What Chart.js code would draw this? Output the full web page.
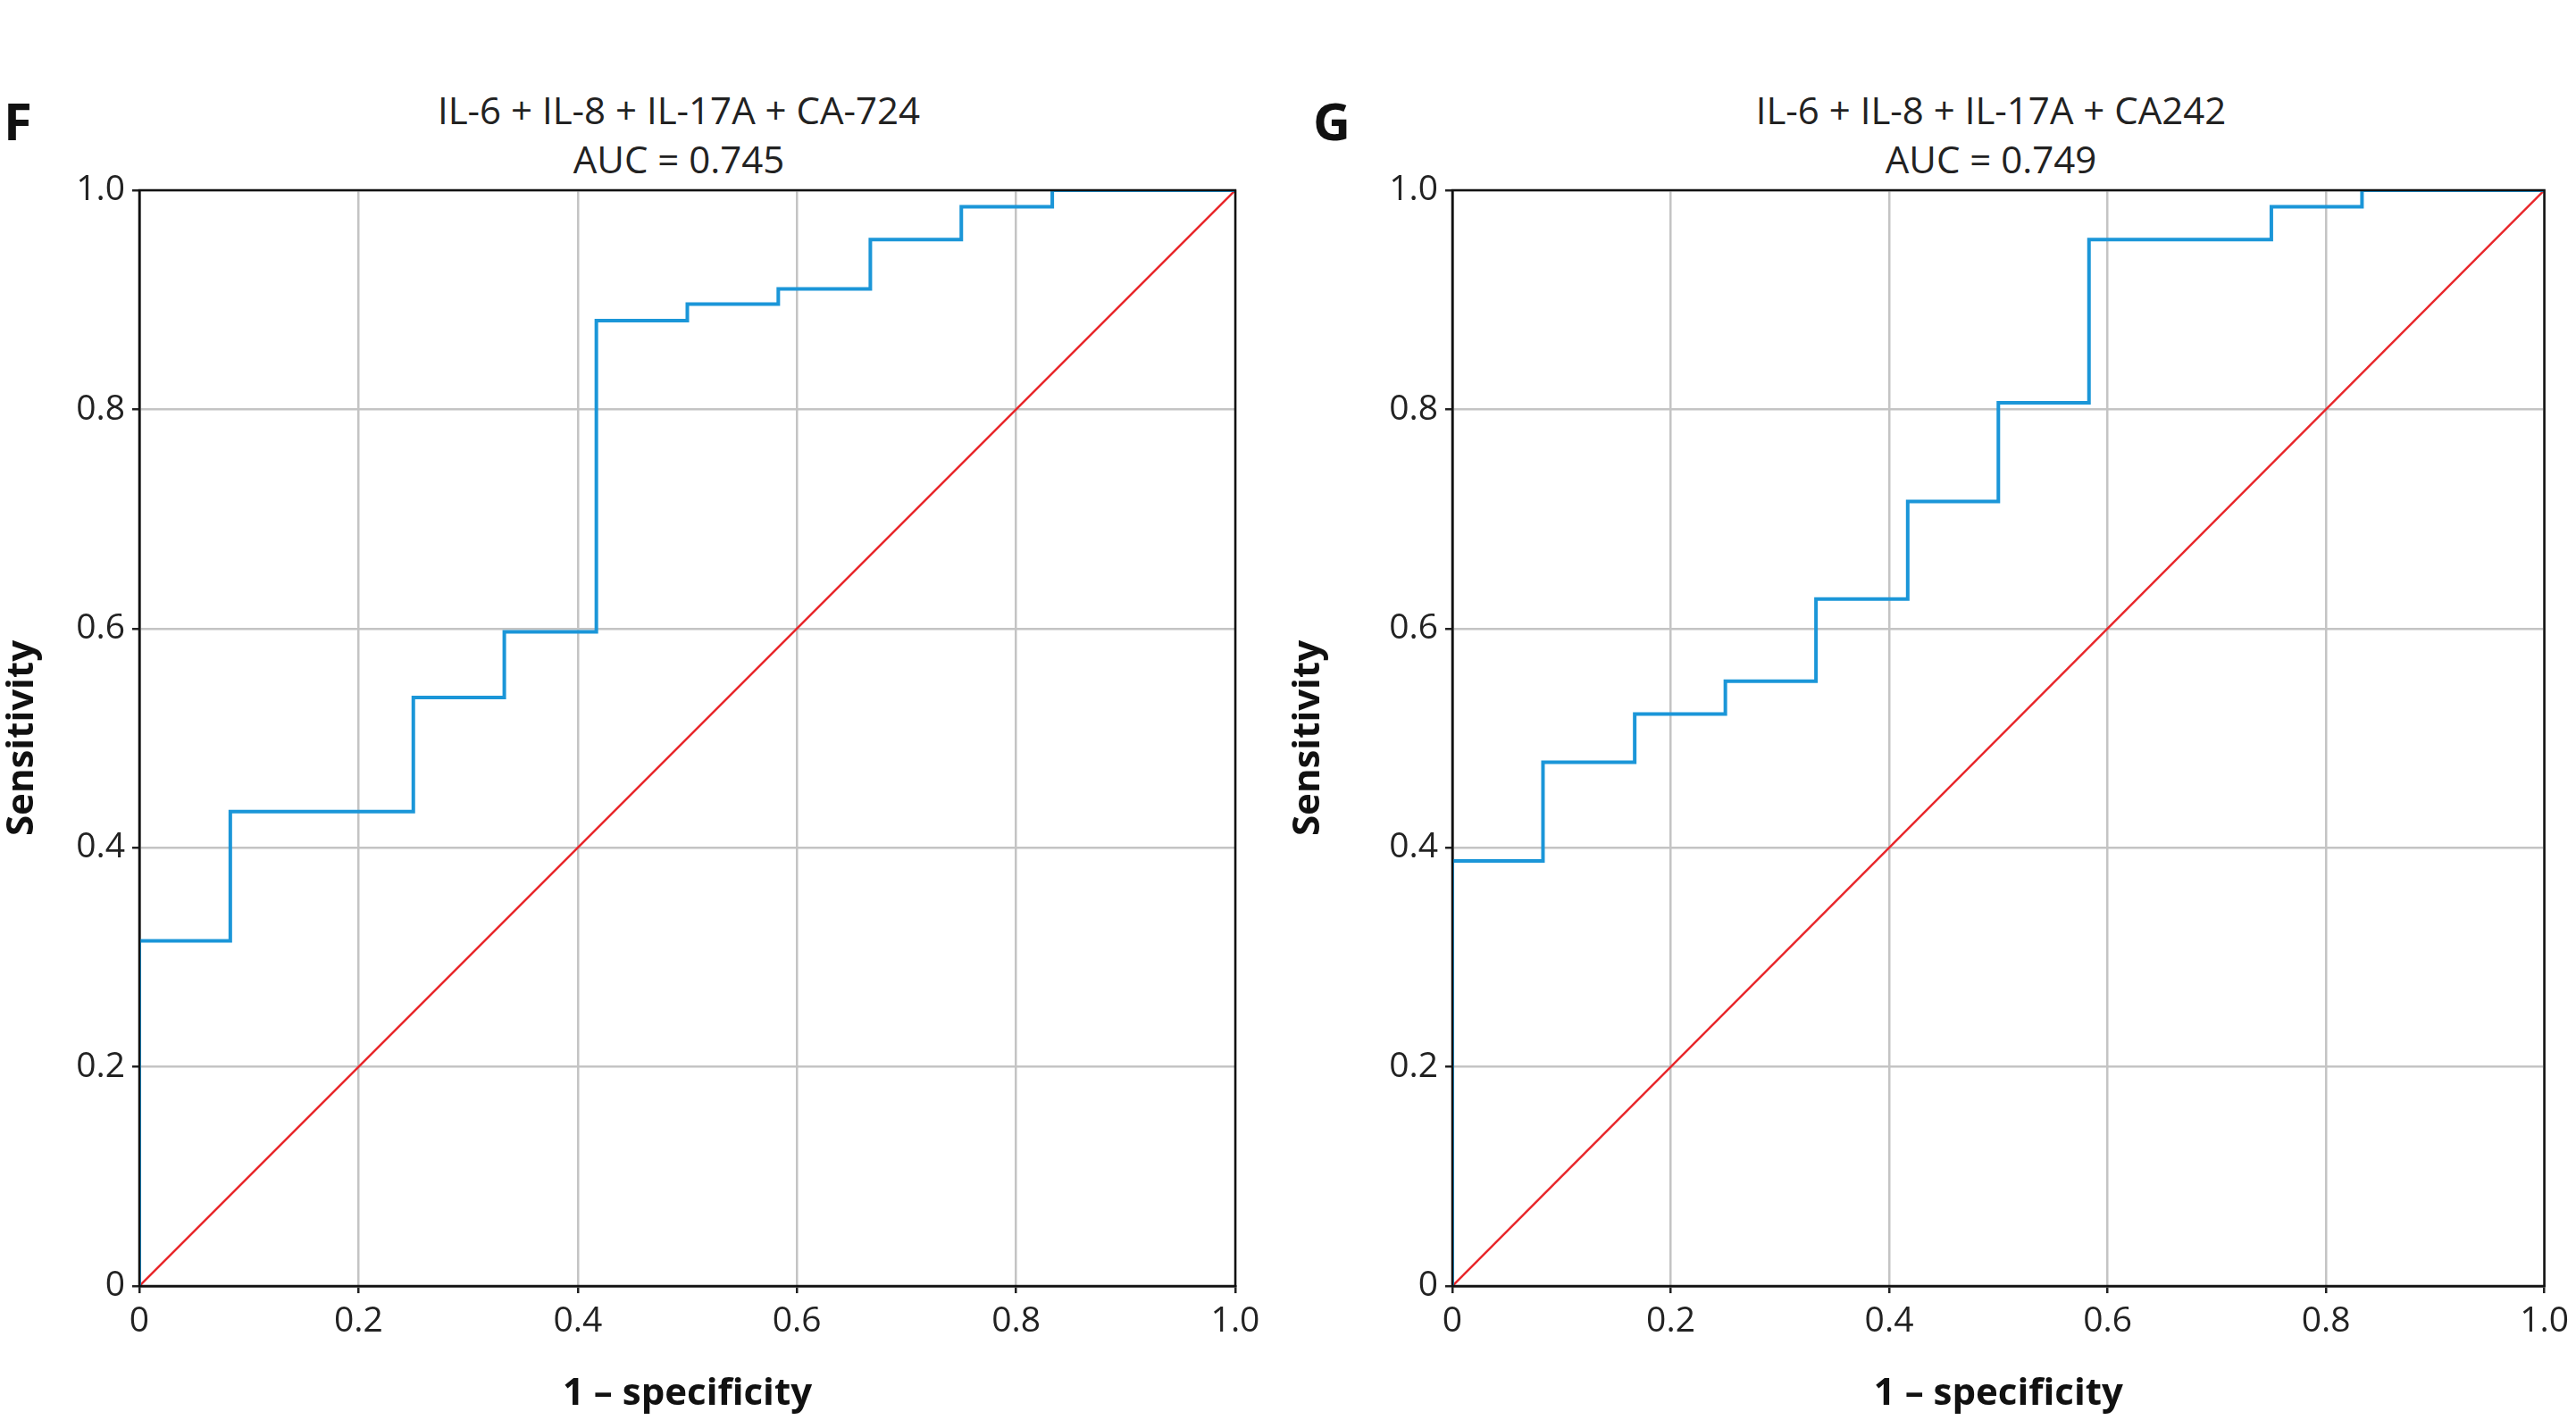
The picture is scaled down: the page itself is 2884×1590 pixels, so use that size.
<html><head>
<script src="https://cdn.jsdelivr.net/npm/chart.js@4"></script>
<style>
body{margin:0;width:2884px;height:1590px;background:#fff;font-family:"Open Sans",sans-serif;position:relative;overflow:hidden}
canvas{position:absolute;top:0}
.t{position:absolute;text-align:center;font-size:42px;line-height:55px;color:#222;transform:translateX(-50%)}
.l{position:absolute;font-size:58px;font-weight:bold;color:#111}
</style></head><body>
<div class="l" style="left:4px;top:95px">F</div>
<div class="t" style="left:760px;top:95px">IL-6 + IL-8 + IL-17A + CA-724<br>AUC = 0.745</div>
<div class="l" style="left:1470px;top:95px">G</div>
<div class="t" style="left:2229px;top:95px">IL-6 + IL-8 + IL-17A + CA242<br>AUC = 0.749</div>
<div style="position:absolute;left:0;top:0;width:1440px;height:1590px"><canvas id="cF"></canvas></div>
<div style="position:absolute;left:1440px;top:0;width:1444px;height:1590px"><canvas id="cG"></canvas></div>
<script>
// Puntos de la curva ROC (vértices)
const fprF = [0, 0, 0.083, 0.25, 0.333, 0.417, 0.5, 0.583, 0.667, 0.75, 0.833, 1];
const tprF = [0, 0.315, 0.433, 0.537, 0.597, 0.881, 0.896, 0.91, 0.955, 0.985, 1, 1];
const fprG = [0, 0, 0.083, 0.167, 0.25, 0.333, 0.417, 0.5, 0.583, 0.75, 0.833, 1];
const tprG = [0, 0.388, 0.478, 0.522, 0.552, 0.627, 0.716, 0.806, 0.955, 0.985, 1, 1];
const ticks = [0, 0.2, 0.4, 0.6, 0.8, 1.0];

function crear(id, xs, ys, leftW, padRight) {
    const fuente = {family: '"Open Sans", sans-serif', size: 39};
    new Chart(document.getElementById(id), {
        type: 'scatter',
        data: {datasets: [
            {data: xs.map((x, i) => ({x: x, y: ys[i]})), showLine: true, stepped: 'before',
             borderColor: '#1b96d8', borderWidth: 4, pointRadius: 0},
            {data: [{x: 0, y: 0}, {x: 1, y: 1}], showLine: true,
             borderColor: '#e8262a', borderWidth: 2.5, pointRadius: 0}
        ]},
        options: {
            responsive: true, maintainAspectRatio: false, animation: false,
            layout: {padding: {top: 213, right: padRight, bottom: 0, left: 0}},
            plugins: {legend: {display: false}, tooltip: {enabled: false}},
            scales: {
                x: {min: 0, max: 1,
                    afterBuildTicks: s => { s.ticks = ticks.map(v => ({value: v})); },
                    afterFit: s => { s.height = 150; },
                    ticks: {font: fuente, color: '#222', padding: 8,
                            callback: v => v === 0 ? '0' : v.toFixed(1)},
                    grid: {color: '#c4c4c4', lineWidth: 2.5, drawTicks: true, tickLength: 8, tickColor: '#222'},
                    border: {color: '#111', width: 2.5},
                    title: {display: true, text: '1 – specificity', font: {...fuente, size: 42, weight: 'bold'}, color: '#111', padding: {top: 4}}},
                y: {min: 0, max: 1,
                    afterBuildTicks: s => { s.ticks = ticks.map(v => ({value: v})); },
                    afterFit: s => { s.width = leftW; },
                    ticks: {font: fuente, color: '#222', padding: 8,
                            callback: v => v === 0 ? '0' : v.toFixed(1)},
                    grid: {color: '#c4c4c4', lineWidth: 2.5, tickLength: 8, tickColor: '#222'},
                    border: {color: '#111', width: 2.5},
                    title: {display: true, text: 'Sensitivity', font: {...fuente, size: 42, weight: 'bold'}, color: '#111', padding: 0}}
            }
        },
        plugins: [{id: 'marco', afterDraw(c) {
            const a = c.chartArea, g = c.ctx;
            g.save(); g.strokeStyle = '#111'; g.lineWidth = 2.5;
            g.strokeRect(a.left, a.top, a.right - a.left, a.bottom - a.top); g.restore();
        }}]
    });
}
crear('cF', fprF, tprF, 156, 57);
crear('cG', fprG, tprG, 186, 33);
</script></body></html>
